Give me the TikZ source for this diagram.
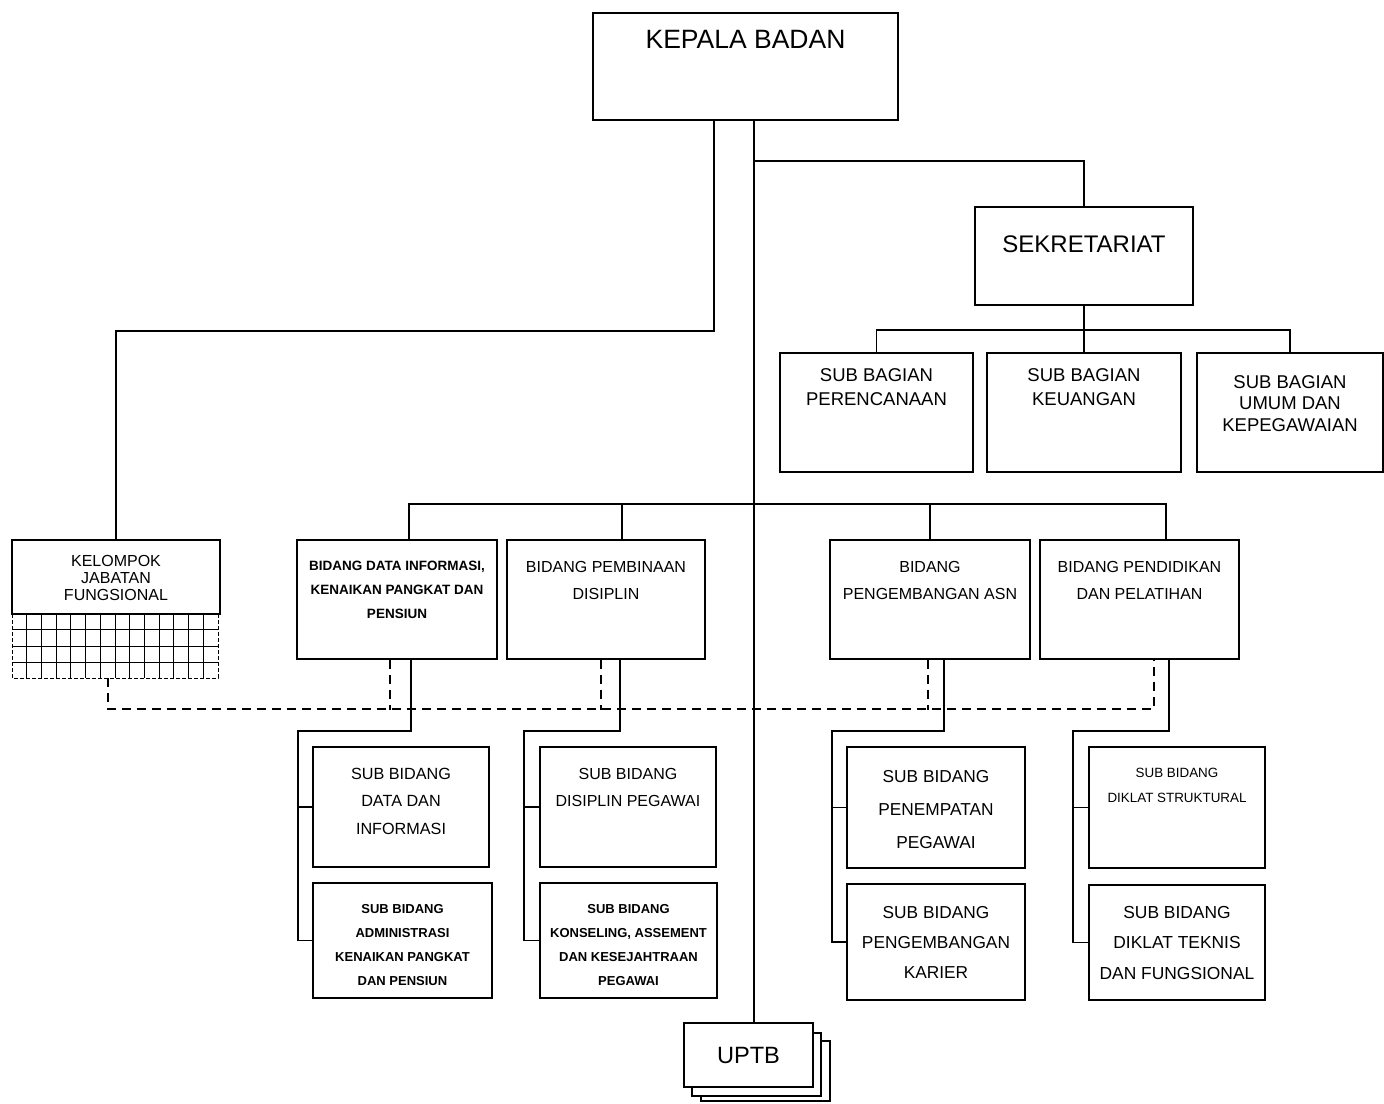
\documentclass[tikz,border=0pt]{standalone}
\usepackage{fontspec}
\setmainfont{Liberation Sans}
\usepackage{tikz}

\newcommand{\boxtext}[4]{\parbox[c][#1pt][t]{#2pt}{\centering\vspace*{#3pt}#4\par}}

\tikzset{
  orgbox/.style={draw=black, line width=1.8pt, inner sep=0pt, fill=white},
  link/.style={line width=1.8pt},
  dashlink/.style={line width=1.6pt, dash pattern=on 9pt off 6pt},
  gridline/.style={line width=0.9pt},
}

\begin{document}
\begin{tikzpicture}[x=1pt,y=-1pt]
    \useasboundingbox (0,0) rectangle (1384,1103);

    \node[orgbox] (kepala) at (745.5,66.5) {\boxtext{107}{305}{17}{\fontsize{26.5}{32}\selectfont KEPALA BADAN}};
    \node[orgbox] (sekre) at (1084,256) {\boxtext{98}{218}{29}{\fontsize{24}{29}\selectfont SEKRETARIAT}};

    \node[orgbox] (perenc) at (876.5,412.5) {\boxtext{119}{193}{15.5}{\fontsize{18.5}{24}\selectfont SUB BAGIAN\\PERENCANAAN}};
    \node[orgbox] (keuangan) at (1084,412.5) {\boxtext{119}{194}{15.5}{\fontsize{18.5}{24}\selectfont SUB BAGIAN\\KEUANGAN}};
    \node[orgbox] (umum) at (1290,412.5) {\boxtext{119}{186}{22.5}{\fontsize{18.5}{21.5}\selectfont SUB BAGIAN\\UMUM DAN\\KEPEGAWAIAN}};

    \node[orgbox] (kelompok) at (116,577) {\boxtext{74}{208}{15}{\fontsize{16}{17}\selectfont KELOMPOK\\JABATAN\\FUNGSIONAL}};

    \node[orgbox] (bid1) at (397,599.5) {\boxtext{119}{200}{21}{\fontsize{13.5}{24}\selectfont\bfseries BIDANG DATA INFORMASI,\\KENAIKAN PANGKAT DAN\\PENSIUN}};
    \node[orgbox] (bid2) at (606,599.5) {\boxtext{119}{198}{21}{\fontsize{16}{27}\selectfont BIDANG PEMBINAAN\\DISIPLIN}};
    \node[orgbox] (bid3) at (930,599.5) {\boxtext{119}{200}{21}{\fontsize{16}{27}\selectfont BIDANG\\PENGEMBANGAN ASN}};
    \node[orgbox] (bid4) at (1139.5,599.5) {\boxtext{119}{199}{21}{\fontsize{16}{27}\selectfont BIDANG PENDIDIKAN\\DAN PELATIHAN}};

    \node[orgbox] (sdata) at (401,807) {\boxtext{120}{176}{21}{\fontsize{16.2}{27.5}\selectfont SUB BIDANG\\DATA DAN\\INFORMASI}};
    \node[orgbox] (sadmin) at (402.5,940.5) {\boxtext{115}{179}{21}{\fontsize{13}{24.3}\selectfont\bfseries SUB BIDANG\\ADMINISTRASI\\KENAIKAN PANGKAT\\DAN PENSIUN}};
    \node[orgbox] (sdisip) at (628,807) {\boxtext{120}{176}{21}{\fontsize{16}{27}\selectfont SUB BIDANG\\DISIPLIN PEGAWAI}};
    \node[orgbox] (skons) at (628.5,940.5) {\boxtext{115}{177}{21}{\fontsize{13}{24.3}\selectfont\bfseries SUB BIDANG\\KONSELING, ASSEMENT\\DAN KESEJAHTRAAN\\PEGAWAI}};
    \node[orgbox] (spenemp) at (936,807.5) {\boxtext{121}{178}{23}{\fontsize{17.3}{33}\selectfont SUB BIDANG\\PENEMPATAN\\PEGAWAI}};
    \node[orgbox] (skarier) at (936,942) {\boxtext{116}{178}{22}{\fontsize{17.3}{30}\selectfont SUB BIDANG\\PENGEMBANGAN\\KARIER}};
    \node[orgbox] (sstrukt) at (1177,807.5) {\boxtext{121}{176}{21}{\fontsize{13.4}{25}\selectfont SUB BIDANG\\DIKLAT STRUKTURAL}};
    \node[orgbox] (steknis) at (1177,942.5) {\boxtext{115}{176}{21}{\fontsize{17.4}{30.5}\selectfont SUB BIDANG\\DIKLAT TEKNIS\\DAN FUNGSIONAL}};

    % uptb stack
    \draw[link, fill=white] (701,1041) rectangle (830,1101);
    \draw[link, fill=white] (692,1033) rectangle (821,1096);
    \node[orgbox, minimum width=129pt, minimum height=64pt, font={\fontsize{23.6}{28}\selectfont}] (uptb) at (748.5,1055) {UPTB};

    % grid under kelompok
    \foreach \i in {1,...,13}
        \draw[gridline] (12+\i*14.71,614) -- (12+\i*14.71,678);
    \foreach \j in {629,646,662}
        \draw[gridline] (12,\j) -- (218,\j);
    \draw[gridline, dash pattern=on 4pt off 2pt] (12,614) -- (12,678) -- (218,678) -- (218,614);
    \coordinate (gridbot) at (108,678);

    % kepala badan
    \draw[link] ([xshift=-31.5pt]kepala.south) -- ++(0,210) -| (kelompok.north);
    \coordinate (trunk) at ([xshift=8.5pt]kepala.south);
    \draw[link] (trunk) -- (trunk |- uptb.north);
    \draw[link] ([yshift=-40pt]trunk) -| (sekre.north);

    % sekretariat
    \draw[link] (sekre.south) -- (keuangan.north);
    \draw[link] (perenc.north) -- ++(0,-22) -| (umum.north);

    % bidang
    \draw[link] ([xshift=12pt]bid1.north) -- ++(0,-35) -| ([xshift=26.5pt]bid4.north);
    \draw[link] ([xshift=16pt]bid2.north) -- ++(0,-35);
    \draw[link] (bid3.north) -- ++(0,-35);

    % koordinasi
    \draw[dashlink] (gridbot) -- ++(0,31) -| ([xshift=14.5pt]bid4.south);
    \foreach \b/\dx in {bid1/-7,bid2/-5,bid3/-2}
        \draw[dashlink] ([xshift=\dx pt]\b.south) -- ++(0,50);

    % sub bidang
    \draw[link] ([xshift=14pt]bid1.south) -- ++(0,71) -- ++(-113,0) |- (sadmin.west);
    \draw[link] (sdata.west) -- ++(-15,0);
    \draw[link] ([xshift=14pt]bid2.south) -- ++(0,71) -- ++(-96,0) |- (skons.west);
    \draw[link] (sdisip.west) -- ++(-16,0);
    \draw[link] ([xshift=14pt]bid3.south) -- ++(0,71) -- ++(-112,0) |- (skarier.west);
    \draw[link] (spenemp.west) -- ++(-15,0);
    \draw[link] ([xshift=29.5pt]bid4.south) -- ++(0,71) -- ++(-96,0) |- (steknis.west);
    \draw[link] (sstrukt.west) -- ++(-16,0);
\end{tikzpicture}
\end{document}
